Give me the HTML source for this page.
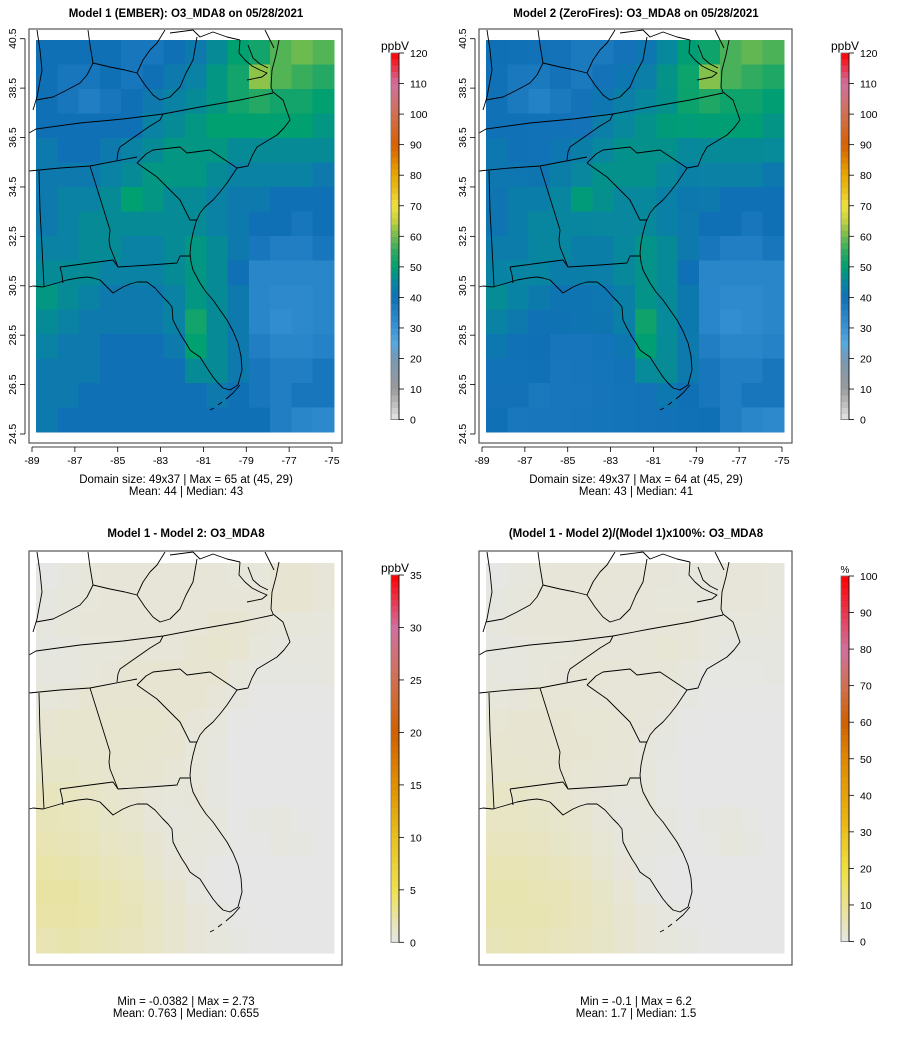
<!DOCTYPE html>
<html><head><meta charset="utf-8">
<style>
html,body{margin:0;padding:0;background:#fff;}
svg text{font-family:"Liberation Sans",sans-serif;}
</style></head>
<body>
<svg id="root" width="900" height="1045" viewBox="0 0 900 1045" xmlns="http://www.w3.org/2000/svg">
<defs>
<g id="mapoutline" fill="none" stroke="#000" stroke-width="0.9" stroke-linejoin="round">
<polyline points="279,40 276,55 272,70 271,87 273,92 283,100 290,120 284,128 277,135 267,141 257,147 252,156 248,166 237,168 227,183 220,192 213,200 205,207 200,213 196,222 193,233 191,243 190,253 191,262 193,270 200,283 206,292 213,300 220,310 227,320 233,331 238,343 241,356 242,370 238,385 230,390 223,388 218,383 213,377 207,368 200,357 194,353 190,350 186,343 182,337 177,328 173,320 172,307 168,302 163,297 155,288 147,282 137,282 130,284 123,287 113,293 108,288 100,280 93,278 87,277 78,278 67,280 57,283 50,285 43,287 33,286 29,287"/>
<polyline points="210,410 214,408" /><polyline points="218,405 222,402"/><polyline points="226,399 233,393 240,385"/>
<polyline points="240,40 239,53 245,60 252,66 260,70 267,73 262,77 247,80"/>
<polyline points="248,45 253,58 260,64 268,68"/>
<polyline points="29,133 36,129 80,123 123,119 163,114 200,107 240,100 273,93"/>
<polyline points="29,171 60,168 90,166 137,157"/>
<polyline points="137,163 146,154 153,150 180,147 187,153 210,150 237,168"/>
<polyline points="137,163 147,170 157,177 170,190 180,200 185,210 190,220 197,220"/>
<polyline points="60,267 90,263 113,260 118,267 150,265 177,263 180,256 190,256"/>
<polyline points="90,166 100,198 110,230 109,240 110,247 118,267"/>
<polyline points="39,171 40,210 42,247 44,287"/>
<polyline points="60,267 62,275 63,283"/>
<polyline points="117,160 118,152 120,147 140,133 150,126 160,120 163,114"/>
<polyline points="36,100 53,97 67,90 80,83 87,75 93,63 110,67 125,70 137,73 145,85 153,95 160,100 170,97 180,87 186,73 193,60 197,37"/>
<polyline points="137,73 143,60 150,50 157,43 165,30"/>
<polyline points="37,30 40,50 42,70 37,97 33,110"/>
<polyline points="88,30 90,45 93,63"/>
<polyline points="170,33 193,30"/><polyline points="193,30 200,37 213,32 227,37 240,40"/>
<polyline points="265,30 270,40 274,48"/>
</g>
</defs>
<g id="panels"></g>
</svg>
<script>
// Model 1 O3_MDA8 (ppbV), coarse 16 rows (north->south) x 14 cols (west->east)
const model1Rows = [
[40,40,40,40,38,38,40,42,46,50,52,58,60,58],
[40,38,38,40,38,40,42,44,48,52,62,58,56,54],
[40,38,36,38,40,42,44,46,48,52,54,52,52,50],
[40,40,40,40,40,44,46,48,50,50,50,50,50,48],
[42,40,40,42,44,46,48,48,48,46,46,46,46,46],
[42,42,42,44,46,48,48,48,46,44,44,44,44,42],
[42,44,44,46,50,48,46,46,44,42,42,40,40,40],
[42,44,46,46,46,46,46,46,44,42,40,40,38,40],
[44,44,46,46,44,44,46,48,46,42,38,36,36,38],
[46,46,46,44,44,44,46,48,46,40,34,34,34,34],
[48,46,44,42,42,42,44,48,46,42,34,33,33,34],
[46,44,42,42,42,42,44,52,46,42,34,32,33,34],
[44,42,42,40,40,40,42,50,46,42,36,34,34,35],
[42,42,42,40,40,40,40,46,46,42,38,36,36,38],
[42,42,40,40,40,40,40,40,42,40,38,36,38,38],
[42,40,40,40,40,40,40,40,40,40,40,36,34,33]];
// Model1 - Model2 (ppbV)
const diffRows = [
[0.1,0.3,0.5,0.6,0.6,0.6,0.6,0.6,0.6,0.5,0.5,0.8,0.8,0.6],
[0.2,0.4,0.5,0.6,0.6,0.6,0.6,0.6,0.6,0.6,0.6,0.8,0.8,0.6],
[0.3,0.5,0.6,0.6,0.6,0.6,0.6,0.6,0.8,0.8,0.6,0.5,0.5,0.4],
[0.2,0.3,0.5,0.5,0.6,0.6,0.6,0.8,1.0,0.8,0.5,0.3,0.3,0.3],
[0.3,0.3,0.5,0.6,0.8,0.8,0.8,0.8,0.8,0.5,0.2,0.2,0.2,0.3],
[0.5,0.6,0.8,0.8,0.8,0.8,0.8,0.8,0.6,0.3,0.1,0.1,0.1,0.1],
[0.8,1.0,1.0,1.0,1.0,1.0,0.8,0.6,0.4,0.1,0.0,0.0,0.0,0.0],
[1.0,1.0,1.0,1.0,1.0,0.9,0.8,0.5,0.3,0.0,0.0,0.0,0.0,0.0],
[1.2,1.2,1.1,1.0,0.9,0.8,0.7,0.5,0.2,0.0,0.0,0.0,0.0,0.0],
[1.6,1.5,1.3,1.1,0.8,0.6,0.5,0.6,0.2,0.0,0.0,0.0,0.0,0.0],
[1.8,1.7,1.5,1.2,1.0,0.6,0.4,0.5,0.4,0.1,0.2,0.3,0.1,0.0],
[2.0,1.9,1.7,1.4,1.2,0.8,0.5,0.4,0.3,0.1,0.1,0.3,0.2,0.0],
[2.3,2.2,2.0,1.7,1.5,1.0,0.6,0.3,0.1,0.0,0.0,0.0,0.0,0.0],
[2.5,2.5,2.2,2.0,1.7,1.3,0.8,0.3,0.1,0.0,0.0,0.0,0.0,0.0],
[2.4,2.4,2.3,2.0,1.8,1.4,1.0,0.6,0.3,0.1,0.0,0.0,0.0,0.0],
[2.0,2.2,2.0,1.8,1.6,1.3,1.0,0.6,0.4,0.2,0.1,0.0,0.0,0.0]];
const xTickLabels = [-89,-87,-85,-83,-81,-79,-77,-75];
const yTickLabels = [40.5,38.5,36.5,34.5,32.5,30.5,28.5,26.5,24.5];
const mainTicks = [0,10,20,30,40,50,60,70,80,90,100,110,120];
const diffTicks = [0,5,10,15,20,25,30,35];
const pctTicks = [0,10,20,30,40,50,60,70,80,90,100];

const mainStops=[[0,'#e6e6e6'],[10,'#9a9a9a'],[20,'#7898b4'],[25,'#56a8e0'],[30,'#3a94d6'],[40,'#1070b6'],[45,'#0886a0'],[50,'#00a070'],[55,'#2eaa60'],[60,'#6cba50'],[65,'#c0d040'],[70,'#f0e040'],[75,'#e8c020'],[80,'#e8a800'],[90,'#d86000'],[100,'#d07050'],[110,'#d070a0'],[120,'#ff0000']];
const diffStops=[[0,'#e6e6e6'],[2,'#e8e4b4'],[5,'#efe050'],[10,'#e8c020'],[15,'#e09000'],[20,'#d06000'],[25,'#d07050'],[30,'#d070a0'],[35,'#ff0000']];
const pctStops=[[0,'#e6e6e6'],[5,'#e8e4b8'],[20,'#efe040'],[35,'#e8b010'],[50,'#e08800'],[60,'#d06000'],[70,'#d07050'],[80,'#d070a0'],[100,'#ff0000']];

function hx(c){return [1,3,5].map(i=>parseInt(c.substr(i,2),16));}
function cmap(stops,v){
  if(v<=stops[0][0]) return stops[0][1];
  for(let i=1;i<stops.length;i++){
    if(v<=stops[i][0]){
      const a=stops[i-1],b=stops[i],t=(v-a[0])/(b[0]-a[0]);
      const ca=hx(a[1]),cb=hx(b[1]);
      return 'rgb('+ca.map((x,k)=>Math.round(x+(cb[k]-x)*t)).join(',')+')';
    }
  }
  return stops[stops.length-1][1];
}
const NS='http://www.w3.org/2000/svg';
function mk(tag,attrs,parent){const e=document.createElementNS(NS,tag);for(const k in attrs)e.setAttribute(k,attrs[k]);parent.appendChild(e);return e;}
function txt(s,attrs,parent){const e=mk('text',attrs,parent);e.textContent=s;return e;}
const root=document.getElementById('panels');

const nR=model1Rows.length,nC=model1Rows[0].length;
const getM1=(r,c)=>model1Rows[r][c];
const getM2=(r,c)=>model1Rows[r][c]-diffRows[r][c];
const getD=(r,c)=>diffRows[r][c];
const getP=(r,c)=>diffRows[r][c]/model1Rows[r][c]*100;

const panels=[
 {dx:0,dy:0,title:'Model 1 (EMBER): O3_MDA8 on 05/28/2021',get:getM1,stops:mainStops,ticks:mainTicks,vmax:120,unit:'ppbV',cb0:419.6,cb1:53,axes:true,stats:['Domain size: 49x37 | Max = 65 at (45, 29)','Mean: 44 |  Median: 43'],sy:483,name:'model1'},
 {dx:450,dy:0,title:'Model 2 (ZeroFires): O3_MDA8 on 05/28/2021',get:getM2,stops:mainStops,ticks:mainTicks,vmax:120,unit:'ppbV',cb0:419.6,cb1:53,axes:true,stats:['Domain size: 49x37 | Max = 64 at (45, 29)','Mean: 43 |  Median: 41'],sy:483,name:'model2'},
 {dx:0,dy:522,title:'Model 1 - Model 2: O3_MDA8',get:getD,stops:diffStops,ticks:diffTicks,vmax:35,unit:'ppbV',cb0:942.3,cb1:575,axes:false,stats:['Min = -0.0382 | Max = 2.73','Mean: 0.763 |  Median: 0.655'],sy:1005,name:'difference'},
 {dx:450,dy:522,title:'(Model 1 - Model 2)/(Model 1)x100%: O3_MDA8',get:getP,stops:pctStops,ticks:pctTicks,vmax:100,unit:'%',cb0:941.5,cb1:576,axes:false,stats:['Min = -0.1 | Max = 6.2','Mean: 1.7 |  Median: 1.5'],sy:1005,name:'percent-difference'}
];

panels.forEach(p=>{
  const g=mk('g',{},root);
  
  
  const fx=29+p.dx, fy=29+p.dy;
  const t=txt(p.title,{x:fx+157,y:p.dy+(p.dy?15:17),'text-anchor':'middle','font-size':'11.5','font-weight':'bold'},g);
  
  
  const rx0=36+p.dx, ry0=40+p.dy+(p.dy?1:0), rw=298, rh=(p.dy?390:392);
  const cw=rw/nC, ch=rh/nR;
  const rg=mk('g',{'shape-rendering':'crispEdges'},g);
  
  
  for(let r=0;r<nR;r++)for(let c=0;c<nC;c++){
    const cell=mk('rect',{x:(rx0+c*cw).toFixed(2),y:(ry0+r*ch).toFixed(2),width:(cw+0.6).toFixed(2),height:(ch+0.6).toFixed(2),fill:cmap(p.stops,p.get(r,c))},rg);
    
    
  }
  const u=mk('use',{href:'#mapoutline',transform:'translate('+p.dx+','+p.dy+')'},g);
  
  
  const fr=mk('rect',{x:fx,y:fy,width:313,height:414,fill:'none',stroke:'#555',"stroke-width":1.2},g);
  
  
  if(p.axes){
    const ax=mk('g',{},g);
    
    
    const xs=l=>32+p.dx+(l+89)*(300/14);
    const ys=l=>38.7+(40.5-l)*(395.3/16);
    mk('line',{x1:xs(-89),x2:xs(-75),y1:fy+414+4,y2:fy+414+4,stroke:'#000','stroke-width':0.8},ax);
    xTickLabels.forEach(v=>{
      mk('line',{x1:xs(v),x2:xs(v),y1:fy+418,y2:fy+423,stroke:'#000','stroke-width':0.8},ax);
      txt(String(v),{x:xs(v),y:464,'text-anchor':'middle','font-size':'10.5'},ax);
    });
    mk('line',{x1:25+p.dx,x2:25+p.dx,y1:ys(40.5),y2:ys(24.5),stroke:'#000','stroke-width':0.8},ax);
    yTickLabels.forEach(v=>{
      mk('line',{x1:20+p.dx,x2:25+p.dx,y1:ys(v),y2:ys(v),stroke:'#000','stroke-width':0.8},ax);
      txt(v.toFixed(1),{x:0,y:0,'text-anchor':'middle','font-size':'10.5',transform:'translate('+(16+p.dx)+','+ys(v)+') rotate(-90)'},ax);
    });
  }
  const cb=mk('g',{},g);
  
  
  const bx=391+p.dx, bw=8;
  const cy=v=>p.cb0+(p.cb1-p.cb0)*v/p.vmax;
  const nSeg=60;
  for(let i=0;i<nSeg;i++){
    const v0=i*p.vmax/nSeg, v1=(i+1)*p.vmax/nSeg;
    mk('rect',{x:bx,y:cy(v1),width:bw,height:cy(v0)-cy(v1)+0.5,fill:cmap(p.stops,(v0+v1)/2),'shape-rendering':'crispEdges'},cb);
  }
  mk('rect',{x:bx,y:cy(p.vmax),width:bw,height:cy(0)-cy(p.vmax),fill:'none',stroke:'#777','stroke-width':0.8},cb);
  mk('line',{x1:bx+bw,x2:bx+bw,y1:cy(0),y2:cy(p.vmax),stroke:'#000','stroke-width':0.8},cb);
  p.ticks.forEach(v=>{
    mk('line',{x1:bx+bw,x2:bx+bw+5,y1:cy(v),y2:cy(v),stroke:'#000','stroke-width':0.8},cb);
    txt(String(v),{x:bx+bw+11,y:cy(v)+4,'font-size':'10.5'},cb);
  });
  txt(p.unit,{x:bx+4,y:cy(p.vmax)-3,'text-anchor':'middle','font-size':p.unit==='%'?'10':'12'},cb);
  p.stats.forEach((s,i)=>{
    const st=txt(s,{x:fx+157,y:p.sy+i*12,'text-anchor':'middle','font-size':'11.5'},g);
    
    
  });
});
</script>
</body></html>
